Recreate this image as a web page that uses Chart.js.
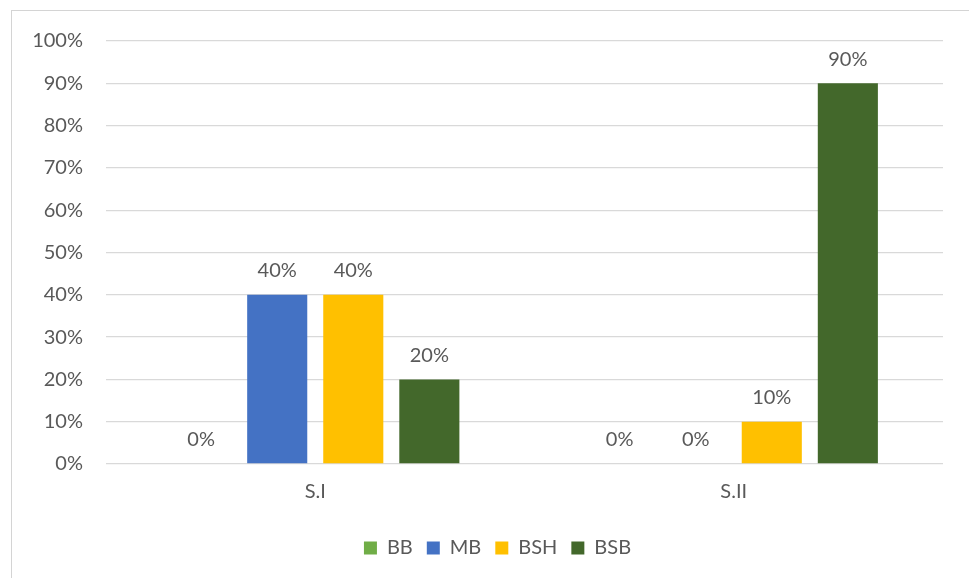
<!DOCTYPE html>
<html lang="en">
<head>
    <meta charset="UTF-8">
    <title>S.I / S.II</title>
    <script src="https://cdn.jsdelivr.net/npm/chart.js"></script>
    <style>
        body {
            margin: 0;
            background: #ffffff;
            overflow: hidden;
        }
        .frame {
            position: absolute;
            left: 11px;
            top: 10px;
            width: 980px;
            height: 600px;
            border: 1px solid #d4d4d4;
        }
        .wrap {
            position: absolute;
            left: 0;
            top: 0;
            width: 969px;
            height: 578px;
        }
    </style>
</head>
<body>
    <div class="frame"></div>
    <div class="wrap">
        <canvas id="chart"></canvas>
    </div>

    <script>
        const categories = ["S.I", "S.II"];
        const seriesNames = ["BB", "MB", "BSH", "BSB"];
        const bbValues = [0, 0];
        const mbValues = [40, 0];
        const bshValues = [40, 10];
        const bsbValues = [20, 90];
        const seriesColors = ["#70ad47", "#4472c4", "#ffc000", "#43682b"];
        const yTicks = [0, 10, 20, 30, 40, 50, 60, 70, 80, 90, 100];

        const textColor = "#595959";
        const fontFamily = "Lato, 'Open Sans', sans-serif";

        // value labels above each bar
        const barLabels = {
            id: "barLabels",
            afterDatasetsDraw(chart) {
                let ctx = chart.ctx;
                ctx.save();
                ctx.fillStyle = textColor;
                ctx.font = "20px " + fontFamily;
                ctx.textAlign = "center";
                ctx.textBaseline = "middle";
                chart.data.datasets.forEach((ds, i) => {
                    chart.getDatasetMeta(i).data.forEach((bar, j) => {
                        ctx.fillText(ds.data[j] + "%", bar.x, bar.y - 24);
                    });
                });
                ctx.restore();
            }
        };

        // legend sits a little right of the canvas centre, like the frame
        const legendShift = {
            id: "legendShift",
            afterLayout(chart) {
                chart.legend.left += 16;
                chart.legend.right += 16;
            }
        };

        const allValues = [bbValues, mbValues, bshValues, bsbValues];

        new Chart(document.getElementById("chart"), {
            type: "bar",
            data: {
                labels: categories,
                datasets: seriesNames.map((name, i) => ({
                    label: name,
                    data: allValues[i],
                    backgroundColor: seriesColors[i],
                    borderWidth: 0,
                    barPercentage: 0.79,
                    categoryPercentage: 0.727
                }))
            },
            options: {
                responsive: true,
                maintainAspectRatio: false,
                animation: false,
                layout: {
                    padding: { left: 20, right: 26, top: 41, bottom: 10 }
                },
                plugins: {
                    legend: {
                        position: "bottom",
                        labels: {
                            boxWidth: 13,
                            boxHeight: 13,
                            padding: 14,
                            color: textColor,
                            font: { family: fontFamily, size: 20 }
                        }
                    },
                    tooltip: { enabled: false }
                },
                scales: {
                    x: {
                        grid: { display: false },
                        border: { display: false },
                        ticks: {
                            color: textColor,
                            padding: 8,
                            font: { family: fontFamily, size: 20 }
                        },
                        afterFit(scale) { scale.height = 60; }
                    },
                    y: {
                        min: 0,
                        max: 100,
                        afterBuildTicks(scale) {
                            scale.ticks = yTicks.map(v => ({ value: v }));
                        },
                        grid: {
                            color: "#d9d9d9",
                            lineWidth: 1.3,
                            drawTicks: false
                        },
                        border: { display: false },
                        ticks: {
                            color: textColor,
                            padding: 23,
                            font: { family: fontFamily, size: 20 },
                            callback: v => v + "%"
                        },
                        afterFit(scale) { scale.width = 86; }
                    }
                }
            },
            plugins: [barLabels, legendShift]
        });
    </script>
</body>
</html>
